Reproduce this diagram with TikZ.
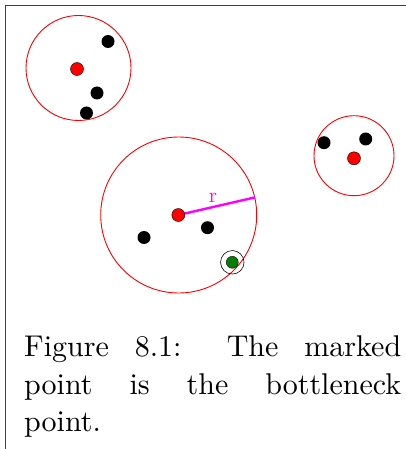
\documentclass[tikz,border=0pt]{standalone}
\definecolor{radiuscol}{RGB}{255,0,255}
\definecolor{greendot}{RGB}{0,128,0}
\begin{document}
\begin{tikzpicture}[x=1pt,y=-1pt,
  cluster/.style={draw=red, line width=0.9pt, circle, inner sep=0pt, minimum size=#1},
  center dot/.style={circle, draw=black, line width=0.4pt, fill=red, inner sep=0pt, minimum size=13pt},
  pt dot/.style={circle, fill=black, inner sep=0pt, minimum size=13pt},
  bneck/.style={circle, draw=black, line width=0.4pt, fill=greendot, inner sep=0pt, minimum size=12pt},
  ring/.style={circle, draw=black, line width=0.6pt, inner sep=0pt, minimum size=23.5pt},
  frameline/.style={line width=1.3pt, black!75}]
\useasboundingbox (0,0) rectangle (406,449);
% frame
\coordinate (ftr) at (406,5.5);
\coordinate (ftl) at (5.5,5.5);
\coordinate (fbl) at (5.5,449);
\draw[frameline] (ftr) -- (ftl) -- (fbl);
% cluster 1
\node[cluster=105pt] (c1) at (78.5,68) {};
\node[center dot] (r1) at (77,69) {};
\node[pt dot] (a1) at (108,41.5) {};
\node[pt dot] (a2) at (97,93) {};
\node[pt dot] (a3) at (86.5,113) {};
% cluster 2
\node[cluster=156pt] (c2) at (178.7,215) {};
\draw[radiuscol, line width=2.4pt] (178.3,215) -- (c2.13.6) node[pos=0.45, above=2pt, text=radiuscol, inner sep=1pt] (rl) {\scalebox{2.1}{\fontsize{10}{12}\selectfont r}};
\node[center dot] (r2) at (178.3,215) {};
\node[pt dot] (b1) at (207.5,227.7) {};
\node[pt dot] (b2) at (144,237.5) {};
\node[ring] (ring) at (232.3,262.3) {};
\node[bneck] (g) at (232.3,262.3) {};
% cluster 3
\node[cluster=80pt] (c3) at (354,155.7) {};
\node[center dot] (r3) at (354,158.3) {};
\node[pt dot] (d1) at (324,142.7) {};
\node[pt dot] (d2) at (365.7,139) {};
% caption
\node[anchor=base west, inner sep=0pt] (cap) at (24,356.7)
  {\scalebox{3}{\parbox[t]{125.67pt}{\fontsize{10}{12.5}\selectfont
   Figure 8.1: The marked\linebreak point is the bottleneck\linebreak point.}}};
\end{tikzpicture}
\end{document}
